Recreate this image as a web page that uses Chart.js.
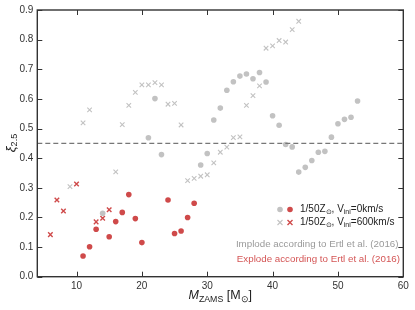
<!DOCTYPE html>
<html><head><meta charset="utf-8">
<script src="https://cdn.jsdelivr.net/npm/chart.js@4/dist/chart.umd.min.js"></script>
<style>html,body{margin:0;padding:0;background:#fff}#wrap{width:415px;height:310px}</style>
</head><body><div id="wrap"><canvas id="c" width="415" height="310"></canvas></div>
<script>
// Data
const implode0X = [14,21,22,23,29,30,31,32,33,34,35,36,37,38,39,40,41,42,43,44,45,46,47,48,49,50,51,52,53];
const implode0Y = [0.214,0.469,0.601,0.412,0.377,0.416,0.529,0.569,0.629,0.658,0.677,0.684,0.668,0.689,0.657,0.543,0.511,0.446,0.438,0.353,0.369,0.392,0.420,0.423,0.471,0.516,0.531,0.538,0.593];
const explode0X = [11,12,13,15,16,17,18,19,20,24,25,26,27,28];
const explode0Y = [0.070,0.101,0.160,0.135,0.186,0.217,0.277,0.196,0.115,0.259,0.146,0.154,0.200,0.248];
const implode600X = [9,11,12,16,17,18,19,20,21,22,23,24,25,26,27,28,29,30,31,32,33,34,35,36,37,38,39,40,41,42,43,44];
const implode600Y = [0.304,0.519,0.563,0.354,0.513,0.578,0.622,0.647,0.647,0.655,0.647,0.582,0.585,0.512,0.324,0.332,0.339,0.344,0.384,0.420,0.437,0.469,0.472,0.578,0.611,0.644,0.771,0.779,0.797,0.792,0.834,0.862];
const explode600X = [6,7,8,10,13,14,15];
const explode600Y = [0.142,0.259,0.222,0.313,0.185,0.197,0.226];
const thresholdY = 0.45;
const xTicks = [10,20,30,40,50,60];
const yTicks = [0.0,0.1,0.2,0.3,0.4,0.5,0.6,0.7,0.8,0.9];

const GRAY = '#c2c2c2', RED = '#cf4a4a', FRAME = '#333333';
const FONT = 'Liberation Sans, Arial, sans-serif';
const pts = (xs, ys) => xs.map((x, i) => ({x, y: ys[i]}));

function drawRich(ctx, segs, x, y, size, color, align) {
  let w = 0;
  const meas = segs.map(s => {
    ctx.font = (s.it ? 'italic ' : '') + (s.sub ? size * 0.7 : size) + 'px ' + FONT;
    const m = ctx.measureText(s.t).width; w += m; return m;
  });
  let cx = align === 'right' ? x - w : (align === 'center' ? x - w / 2 : x);
  ctx.fillStyle = color; ctx.textBaseline = 'middle'; ctx.textAlign = 'left';
  segs.forEach((s, i) => {
    ctx.font = (s.it ? 'italic ' : '') + (s.sub ? size * 0.7 : size) + 'px ' + FONT;
    ctx.fillText(s.t, cx, y + (s.sub ? size * 0.3 : 0));
    cx += meas[i];
  });
}

const decor = {
  id: 'decor',
  afterDraw(chart) {
    const {ctx, chartArea: a, scales: {x, y}} = chart;
    ctx.save();
    ctx.strokeStyle = FRAME; ctx.lineWidth = 1.4;
    ctx.strokeRect(a.left, a.top, a.right - a.left, a.bottom - a.top);
    ctx.lineWidth = 1;
    const L = 5;
    xTicks.forEach(v => {
      const px = Math.round(x.getPixelForValue(v)) + 0.5;
      ctx.beginPath(); ctx.moveTo(px, a.bottom); ctx.lineTo(px, a.bottom - L);
      ctx.moveTo(px, a.top); ctx.lineTo(px, a.top + L); ctx.stroke();
    });
    yTicks.forEach(v => {
      const py = Math.round(y.getPixelForValue(v)) + 0.5;
      ctx.beginPath(); ctx.moveTo(a.left, py); ctx.lineTo(a.left + L, py);
      ctx.moveTo(a.right, py); ctx.lineTo(a.right - L, py); ctx.stroke();
    });
    // axis titles
    drawRich(ctx, [{t: 'M', it: true}, {t: 'ZAMS', sub: true}, {t: ' [M'}, {t: '⊙', sub: true}, {t: ']'}],
      (a.left + a.right) / 2, 296, 12.5, '#222', 'center');
    ctx.save();
    ctx.translate(11, 143); ctx.rotate(-Math.PI / 2);
    drawRich(ctx, [{t: 'ξ', it: true}, {t: '2.5', sub: true}], 0, 0, 13, '#222', 'center');
    ctx.restore();
    // legend
    const lx1 = 280, lx2 = 290, r1 = 209.5, r2 = 222.5;
    ctx.fillStyle = GRAY; ctx.beginPath(); ctx.arc(lx1, r1, 2.8, 0, 2 * Math.PI); ctx.fill();
    ctx.fillStyle = RED; ctx.beginPath(); ctx.arc(lx2, r1, 2.8, 0, 2 * Math.PI); ctx.fill();
    const cross = (cx, cy, col, lw) => {
      ctx.strokeStyle = col; ctx.lineWidth = lw; ctx.beginPath();
      ctx.moveTo(cx - 2.5, cy - 2.5); ctx.lineTo(cx + 2.5, cy + 2.5);
      ctx.moveTo(cx - 2.5, cy + 2.5); ctx.lineTo(cx + 2.5, cy - 2.5); ctx.stroke();
    };
    cross(lx1, r2, GRAY, 1.1); cross(lx2, r2, RED, 1.4);
    drawRich(ctx, [{t: '1/50Z'}, {t: '⊙', sub: true}, {t: ', V'}, {t: 'ini', sub: true}, {t: '=0km/s'}], 300, r1, 10, '#222', 'left');
    drawRich(ctx, [{t: '1/50Z'}, {t: '⊙', sub: true}, {t: ', V'}, {t: 'ini', sub: true}, {t: '=600km/s'}], 300, r2, 10, '#222', 'left');
    drawRich(ctx, [{t: 'Implode according to Ertl et al. (2016)'}], 398.5, 244.5, 9.75, '#9a9a9a', 'right');
    drawRich(ctx, [{t: 'Explode according to Ertl et al. (2016)'}], 400, 259, 9.75, '#d45555', 'right');
    ctx.restore();
  }
};

new Chart(document.getElementById('c'), {
  type: 'scatter',
  data: {
    datasets: [
      {type: 'line', data: [{x: 4, y: thresholdY}, {x: 60, y: thresholdY}], borderColor: '#777', borderWidth: 1.2,
       borderDash: [5, 3], pointRadius: 0, fill: false},
      {data: pts(implode0X, implode0Y), pointStyle: 'circle', pointRadius: 2.8, backgroundColor: GRAY, borderWidth: 0},
      {data: pts(implode600X, implode600Y), pointStyle: 'crossRot', pointRadius: 3.2, borderColor: GRAY, borderWidth: 1.1},
      {data: pts(explode0X, explode0Y), pointStyle: 'circle', pointRadius: 2.8, backgroundColor: RED, borderWidth: 0},
      {data: pts(explode600X, explode600Y), pointStyle: 'crossRot', pointRadius: 3.2, borderColor: RED, borderWidth: 1.4}
    ]
  },
  options: {
    responsive: false, animation: false, devicePixelRatio: 1,
    layout: {padding: {left: 0, right: 11.7, top: 10, bottom: 0}},
    plugins: {legend: {display: false}, tooltip: {enabled: false}},
    elements: {point: {hoverRadius: 3}},
    scales: {
      x: {type: 'linear', min: 4, max: 60,
        afterBuildTicks: s => { s.ticks = xTicks.map(v => ({value: v})); },
        afterFit: s => { s.height = 33.3; },
        grid: {display: false, drawTicks: false}, border: {display: false},
        ticks: {padding: 4, color: '#333', font: {family: FONT, size: 10}, callback: v => String(v)}},
      y: {type: 'linear', min: 0, max: 0.9,
        afterBuildTicks: s => { s.ticks = yTicks.map(v => ({value: v})); },
        afterFit: s => { s.width = 37.3; },
        grid: {display: false, drawTicks: false}, border: {display: false},
        ticks: {padding: 4, color: '#333', font: {family: FONT, size: 10}, callback: v => Number(v).toFixed(1)}}
    }
  },
  plugins: [decor]
});
</script></body></html>
